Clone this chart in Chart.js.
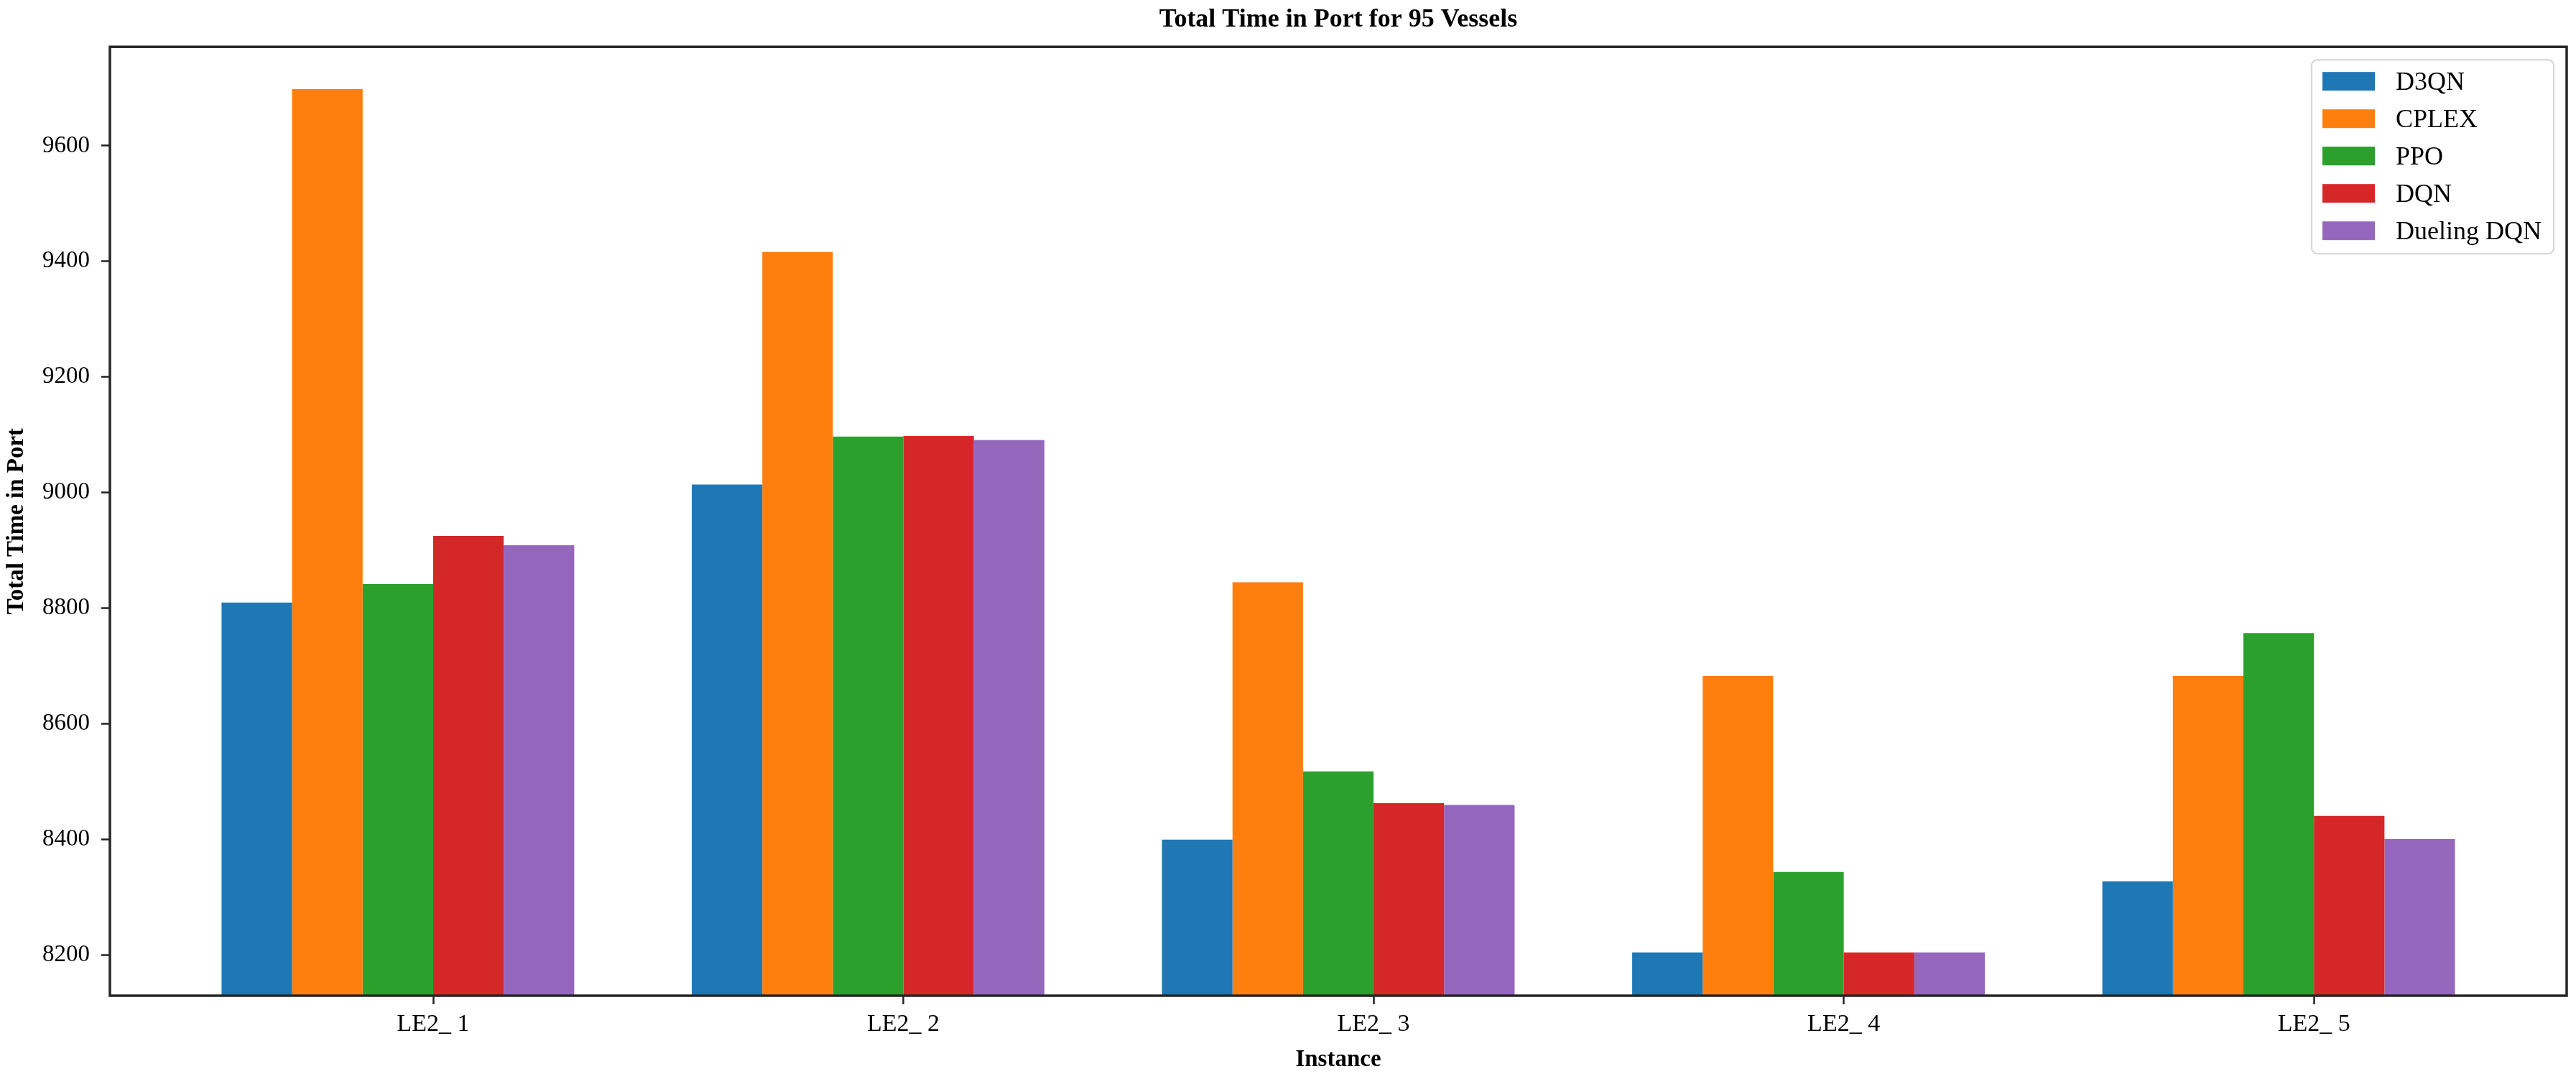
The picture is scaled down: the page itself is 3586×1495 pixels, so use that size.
<!DOCTYPE html>
<html>
<head>
<meta charset="utf-8">
<title>Total Time in Port for 95 Vessels</title>
<script src="https://cdn.jsdelivr.net/npm/chart.js@4.4.1/dist/chart.umd.min.js"></script>
<style>
  html, body { margin: 0; padding: 0; background: #fff; }
  canvas { display: block; }
</style>
</head>
<body>
<canvas id="portChart" width="3586" height="1495"></canvas>
<script>
// values
const instances = ['LE2_ 1', 'LE2_ 2', 'LE2_ 3', 'LE2_ 4', 'LE2_ 5'];
const methods = ['D3QN', 'CPLEX', 'PPO', 'DQN', 'Dueling DQN'];
const d3qn = [8810, 9014, 8400, 8205, 8328];
const cplex = [9698, 9416, 8845, 8683, 8683];
const ppo = [8842, 9097, 8518, 8344, 8757];
const dqn = [8925, 9098, 8463, 8205, 8441];
const duelingDqn = [8909, 9091, 8460, 8205, 8401];
const yTicks = [8200, 8400, 8600, 8800, 9000, 9200, 9400, 9600];
const colors = ['#1f77b4', '#ff7f0e', '#2ca02c', '#d62728', '#9467bd'];

const FONT = "'Liberation Serif', 'DejaVu Serif', serif";
Chart.defaults.font.family = FONT;
Chart.defaults.color = '#000';

const series = [d3qn, cplex, ppo, dqn, duelingDqn];
const datasets = series.map((vals, k) => ({
    label: methods[k],
    data: vals.map((v, i) => ({ x: i, y: v })),
    backgroundColor: colors[k],
    borderWidth: 0
}));
// empty sixth slot: keeps the tick between PPO and DQN like the original plot
datasets.push({ label: '', data: [], backgroundColor: 'rgba(0,0,0,0)' });

// box around the plot area, drawn over the bars
const frame = {
    id: 'frame',
    afterDatasetsDraw(chart) {
        const { ctx, chartArea: a } = chart;
        ctx.save();
        ctx.strokeStyle = '#262626';
        ctx.lineWidth = 3.5;
        ctx.strokeRect(a.left, a.top, a.right - a.left, a.bottom - a.top);
        ctx.restore();
    }
};

// matplotlib-style legend inside the upper right corner
const insideLegend = {
    id: 'insideLegend',
    afterDraw(chart) {
        const { ctx, chartArea } = chart;
        const swatchW = 73, swatchH = 26, rowH = 52, pad = 15, gap = 29;
        ctx.save();
        ctx.font = `36px ${FONT}`;
        const textW = Math.max(...methods.map(m => ctx.measureText(m).width));
        const boxW = pad + swatchW + gap + textW + 17;
        const boxH = 30 + (methods.length - 1) * rowH + 32;
        const x = chartArea.right - 18 - boxW;
        const y = chartArea.top + 18;

        ctx.fillStyle = 'rgba(255,255,255,0.85)';
        ctx.strokeStyle = '#d4d4d4';
        ctx.lineWidth = 2;
        ctx.beginPath();
        if (ctx.roundRect) ctx.roundRect(x, y, boxW, boxH, 8);
        else ctx.rect(x, y, boxW, boxH);
        ctx.fill();
        ctx.stroke();

        ctx.textBaseline = 'middle';
        methods.forEach((m, k) => {
            const cy = y + 30 + k * rowH;
            ctx.fillStyle = colors[k];
            ctx.fillRect(x + pad, cy - swatchH / 2, swatchW, swatchH);
            ctx.fillStyle = '#000';
            ctx.fillText(m, x + pad + swatchW + gap, cy + 2);
        });
        ctx.restore();
    }
};

const tickGrid = {
    display: true,
    drawOnChartArea: false,
    drawTicks: true,
    tickLength: 12,
    tickWidth: 2.5,
    tickColor: '#222'
};

new Chart(document.getElementById('portChart').getContext('2d'), {
    type: 'bar',
    data: { datasets },
    options: {
        responsive: false,
        devicePixelRatio: 1,
        animation: false,
        layout: { padding: { left: 0, right: 13, top: 0, bottom: 0 } },
        datasets: { bar: { barPercentage: 1, categoryPercentage: 0.9 } },
        plugins: {
            legend: { display: false },
            tooltip: { enabled: false },
            title: {
                display: true,
                text: 'Total Time in Port for 95 Vessels',
                fullSize: false,
                font: { size: 36, weight: 'bold' },
                color: '#000',
                padding: { top: 6, bottom: 16 }
            }
        },
        scales: {
            x: {
                type: 'linear',
                offset: false,
                min: -0.6875,
                max: 4.5375,
                afterBuildTicks: s => { s.ticks = instances.map((_, i) => ({ value: i })); },
                afterFit: s => { s.height = 109; },
                grid: Object.assign({ offset: false }, tickGrid),
                border: { display: false },
                ticks: {
                    autoSkip: false,
                    maxRotation: 0,
                    padding: 8,
                    font: { size: 34 },
                    color: '#000',
                    callback: v => instances[v]
                },
                title: {
                    display: true,
                    text: 'Instance',
                    font: { size: 33, weight: 'bold' },
                    color: '#000',
                    padding: { top: 0, bottom: 0 }
                }
            },
            y: {
                min: 8130,
                max: 9771,
                afterBuildTicks: s => { s.ticks = yTicks.map(v => ({ value: v })); },
                afterFit: s => { s.width = 153; },
                grid: tickGrid,
                border: { display: false },
                ticks: {
                    padding: 16,
                    font: { size: 33 },
                    color: '#000',
                    callback: v => String(v)
                },
                title: {
                    display: true,
                    text: 'Total Time in Port',
                    font: { size: 33, weight: 'bold' },
                    color: '#000',
                    padding: { top: 4, bottom: 0 }
                }
            }
        }
    },
    plugins: [frame, insideLegend]
});
</script>
</body>
</html>
